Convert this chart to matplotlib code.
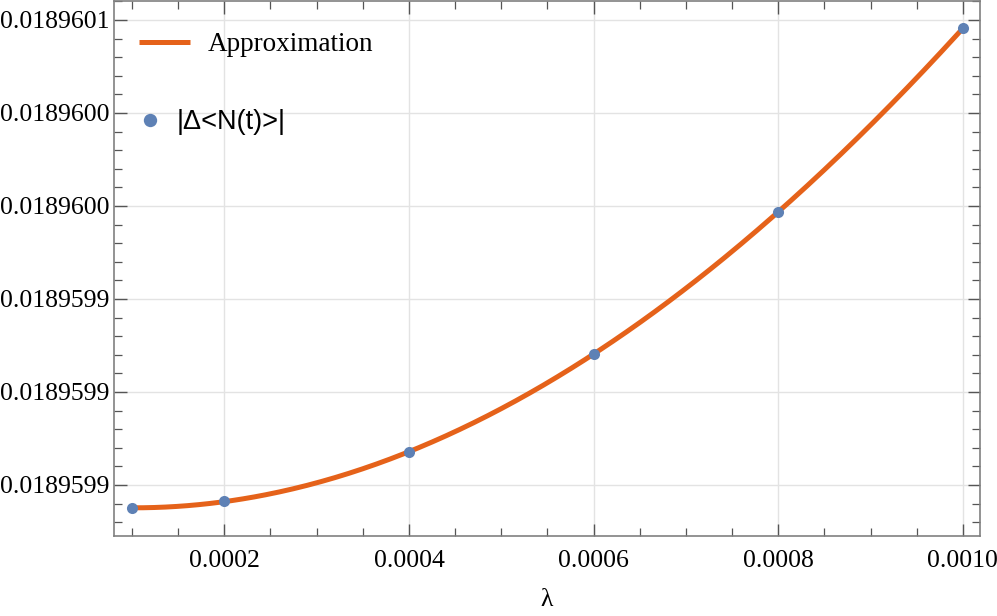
import numpy as np
from matplotlib import pyplot as plt
from matplotlib.ticker import FixedLocator, AutoMinorLocator

# data
lam = [0.0001, 0.0002, 0.0004, 0.0006, 0.0008, 0.0010]
delta_N = [0.018959850, 0.0189598532, 0.0189598741,
           0.0189599163, 0.0189599776, 0.0189600564]

x_ticks = [0.0002, 0.0004, 0.0006, 0.0008, 0.0010]
x_labels = ['0.0002', '0.0004', '0.0006', '0.0008', '0.0010']
y_ticks = [0.01895986, 0.01895990, 0.01895994, 0.01895998, 0.01896002, 0.01896006]
y_labels = ['0.0189599', '0.0189599', '0.0189599', '0.0189600', '0.0189600', '0.0189601']

line_color = '#E5621A'
point_color = '#5E81B5'
serif = 'Liberation Serif'

# approximation: cubic fit of the points (scaled for conditioning)
xs = np.array(lam) * 1e4
ys = (np.array(delta_N) - delta_N[0]) * 1e11
coef = np.polyfit(xs, ys, 3)
xf = np.linspace(xs[0], xs[-1], 300)
yf = np.polyval(coef, xf) / 1e11 + delta_N[0]
xf = xf / 1e4

fig = plt.figure(figsize=(9.97, 6.16), dpi=100)
ax = fig.add_axes([114 / 997, 1 - 536 / 616, 866 / 997, 535 / 616])

l1, = ax.plot(xf, yf, color=line_color, lw=3.6, solid_capstyle='butt', zorder=3)
p1, = ax.plot(lam, delta_N, 'o', color=point_color, ms=8, mew=0, zorder=4)

ax.set_xlim(0.0000805, 0.0010185)
ax.set_ylim(0.01895983806, 0.01896006817)

ax.xaxis.set_major_locator(FixedLocator(x_ticks))
ax.set_xticklabels(x_labels)
ax.xaxis.set_minor_locator(AutoMinorLocator(4))
ax.yaxis.set_major_locator(FixedLocator(y_ticks))
ax.set_yticklabels(y_labels)
ax.yaxis.set_minor_locator(AutoMinorLocator(5))

ax.tick_params(which='both', direction='in', top=True, right=True,
               color='#555555', labelsize=18.5)
ax.tick_params(which='major', length=9, width=1)
ax.tick_params(which='minor', length=6, width=0.9)
ax.tick_params(axis='x', which='major', pad=10, labeltop=False)
ax.tick_params(axis='y', which='major', pad=3, labelright=False)
for lab in ax.get_xticklabels() + ax.get_yticklabels():
    lab.set_family(serif)

for s in ax.spines.values():
    s.set_color('#808080')
    s.set_linewidth(1.2)

ax.grid(True, which='major', color='#e3e3e3', lw=1)
ax.set_axisbelow(True)

ax.set_xlabel('λ', fontsize=18.5, family=serif)
ax.xaxis.set_label_coords(0.5, -(600 - 536) / 535)
ax.xaxis.label.set_va('center')

fs = 19.5
leg1 = ax.legend([l1], ['Approximation'], loc='center left',
                 bbox_to_anchor=(25 / 866, 1 - 44 / 535), frameon=False,
                 handlelength=1.9, handletextpad=0.65, borderpad=0,
                 borderaxespad=0, prop={'family': serif, 'size': fs})
ax.add_artist(leg1)
leg2 = ax.legend([p1], ['|Δ<N(t)>|'], loc='center left',
                 bbox_to_anchor=(25 / 866, 1 - 121 / 535), frameon=False,
                 handlelength=0.8, handletextpad=0.6, borderpad=0,
                 borderaxespad=0, numpoints=1, markerscale=1.2,
                 prop={'family': 'Liberation Sans', 'size': fs})

plt.savefig('out.png', dpi=100)
